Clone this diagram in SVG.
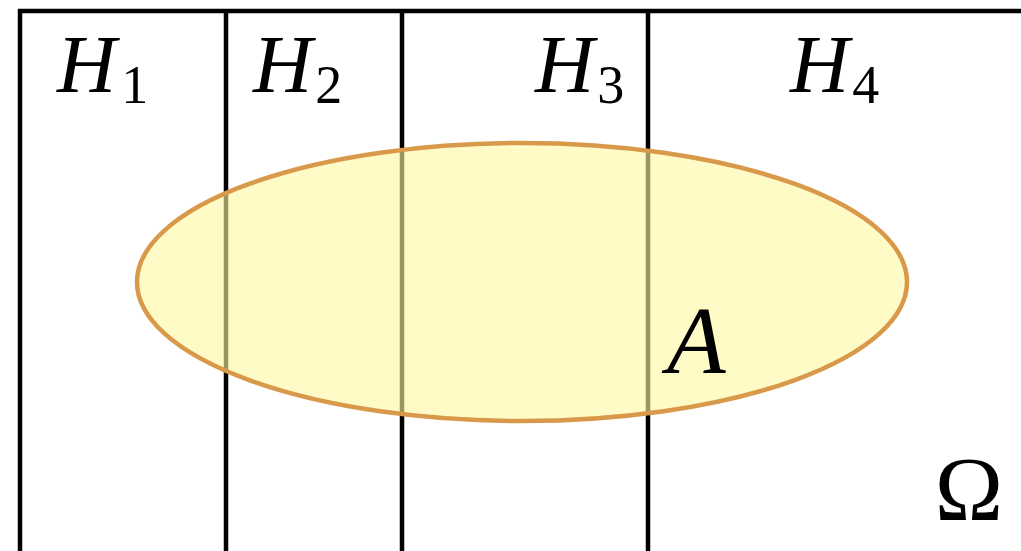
<svg xmlns="http://www.w3.org/2000/svg" width="1021" height="551" viewBox="0 0 1021 551">
<style>
.ln{stroke:#000;stroke-width:4.5;fill:none}
.m{font-family:"Liberation Serif","DejaVu Serif",serif;font-style:italic;fill:#000}
.sub{font-family:"Liberation Serif","DejaVu Serif",serif;font-style:normal;font-size:54px}
.up{font-family:"Liberation Serif","DejaVu Serif",serif;fill:#000}
</style>
<rect width="1021" height="551" fill="#fff"/>
<g id="omega-frame">
<path class="ln" d="M20,560 V11 H1030"/>
<text class="up" x="969" y="520" font-size="92" text-anchor="middle">Ω</text>
</g>
<g id="partitions">
<line class="ln" x1="226" y1="11" x2="226" y2="560"/>
<line class="ln" x1="402" y1="11" x2="402" y2="560"/>
<line class="ln" x1="648" y1="11" x2="648" y2="560"/>
</g>
<g id="H1"><text class="m" x="57" y="92" font-size="82">H<tspan class="sub" dx="5" dy="11">1</tspan></text></g>
<g id="H2"><text class="m" x="253" y="92" font-size="82">H<tspan class="sub" dx="3" dy="11">2</tspan></text></g>
<g id="H3"><text class="m" x="535" y="92" font-size="82">H<tspan class="sub" dx="3" dy="11">3</tspan></text></g>
<g id="H4"><text class="m" x="790" y="92" font-size="82">H<tspan class="sub" dx="3" dy="11">4</tspan></text></g>
<g id="A">
<ellipse cx="522" cy="282" rx="385" ry="139" fill="#fff8a0" fill-opacity="0.6" stroke="#d9994a" stroke-width="4.5"/>
<text class="m" x="667" y="373" font-size="96">A</text>
</g>
</svg>
